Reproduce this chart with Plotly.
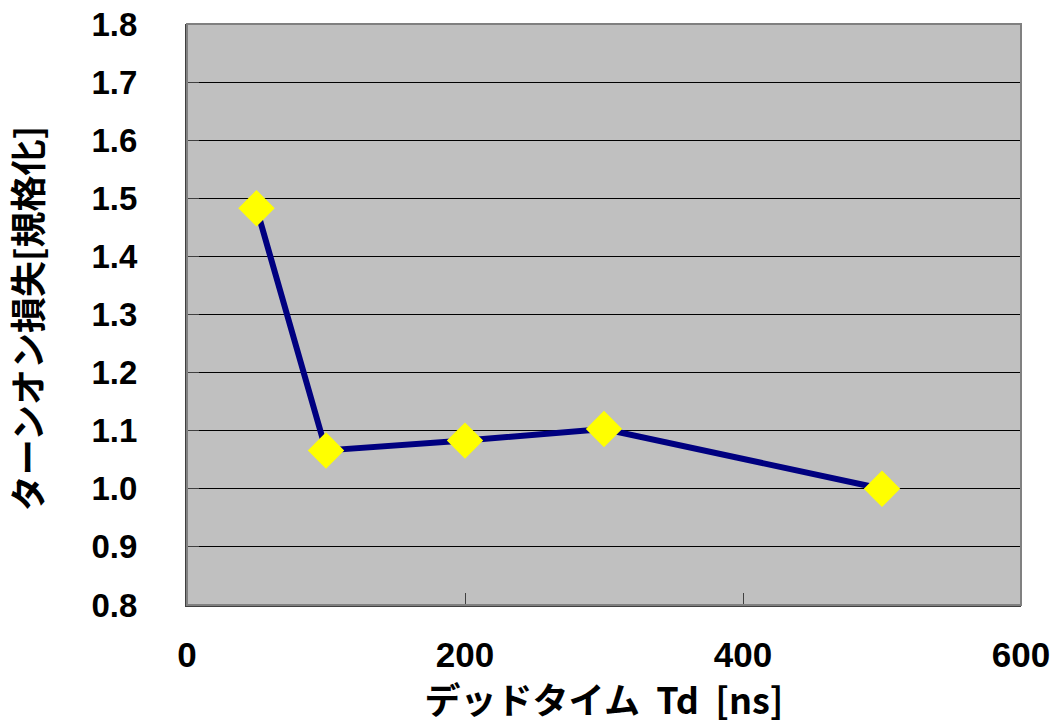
import plotly.graph_objects as go

x_vals = [50, 100, 200, 300, 500]
y_vals = [1.483, 1.066, 1.083, 1.103, 1.0]
x_ticks = [0, 200, 400, 600]
y_ticks = [0.8, 0.9, 1.0, 1.1, 1.2, 1.3, 1.4, 1.5, 1.6, 1.7, 1.8]
x_title = "デッドタイム&nbsp;&nbsp;Td&nbsp;&nbsp;[ns]"
y_title = "ターンオン損失[規格化]&nbsp;"

fig = go.Figure()
fig.add_trace(go.Scatter(
    x=x_vals, y=y_vals, mode="lines+markers",
    line=dict(color="#000080", width=6),
    marker=dict(symbol="diamond", size=28, color="#FFFF00", line=dict(width=0)),
    showlegend=False,
))

x_tick_font = dict(family="Liberation Sans, Arial, sans-serif", size=35, color="black")
y_tick_font = dict(family="Liberation Sans, Arial, sans-serif", size=33, color="black")
title_font = dict(family="Noto Sans CJK JP, sans-serif", size=36, color="black", weight="bold")

fig.update_layout(
    width=1056, height=724,
    margin=dict(l=187, r=35, t=24, b=119),
    paper_bgcolor="white",
    plot_bgcolor="#C0C0C0",
    xaxis=dict(
        range=[0, 600], tickvals=x_ticks, ticktext=[f"<b>{v}</b>" for v in x_ticks],
        ticks="inside", ticklen=12, tickcolor="#404040", tickwidth=1,
        showgrid=False, zeroline=False, automargin=False,
        showline=True, linecolor="#404040", linewidth=2, mirror=False,
        tickfont=x_tick_font, ticklabelstandoff=18, ticklabeloverflow="allow",
        title=dict(text=f"<b>{x_title}</b>", font=title_font, standoff=23),
    ),
    yaxis=dict(
        range=[0.8, 1.8], tickvals=y_ticks, ticktext=[f"<b>{v:.1f}</b>" for v in y_ticks],
        ticks="inside", ticklen=12, tickcolor="#404040", tickwidth=1,
        showgrid=True, gridcolor="black", gridwidth=1, zeroline=False, automargin=False,
        showline=True, linecolor="#404040", linewidth=2, mirror=False,
        tickfont=y_tick_font, ticklabelstandoff=41, ticklabeloverflow="allow",
        title=dict(text=f"<b>{y_title}</b>", font=title_font, standoff=46),
    ),
)
fig.add_shape(type="rect", xref="paper", yref="paper", x0=0, x1=1, y0=0, y1=1,
              line=dict(color="#808080", width=2), layer="above")

fig.write_html("out.html", config={"displayModeBar": False},
               post_script="document.body.style.margin='0';")
